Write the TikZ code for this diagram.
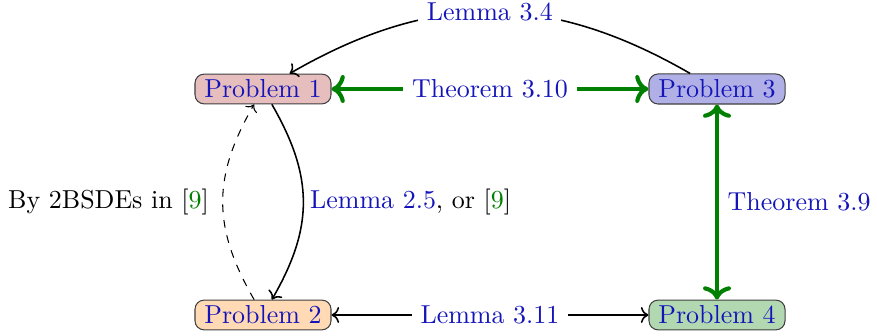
\documentclass[tikz,border=0pt]{standalone}
\usetikzlibrary{arrows.meta}
\definecolor{lnk}{RGB}{20,20,185}
\definecolor{cit}{RGB}{0,128,0}
\definecolor{pone}{RGB}{230,190,190}
\definecolor{ptwo}{RGB}{255,218,180}
\definecolor{pthree}{RGB}{176,176,230}
\definecolor{pfour}{RGB}{178,216,178}
\begin{document}
\begin{tikzpicture}[x=0.385pt,y=-0.385pt,
  prob/.style={draw=black!75,rounded corners=3.5pt,text=lnk,inner xsep=3.6pt,inner ysep=2.2pt,thin},
  garrow/.style={<->,draw=cit,line width=1.6pt},
  blab/.style={text=lnk,fill=white},
  carrow/.style={->,semithick}]
\useasboundingbox (0,0) rectangle (877,336);
\node[prob,fill=pone] (p1) at (263,89) {Problem 1};
\node[prob,fill=pthree] (p3) at (717,89) {Problem 3};
\node[prob,fill=ptwo] (p2) at (263,315) {Problem 2};
\node[prob,fill=pfour] (p4) at (717,315) {Problem 4};
\draw[carrow] (p3) to[bend right=30,looseness=1.05] node[blab] {Lemma 3.4} (p1);
\draw[garrow] (p1) -- node[blab] {Theorem 3.10} (p3);
\draw[garrow] (p3) -- node[right,text=lnk] {Theorem 3.9} (p4);
\draw[semithick,<->] (p2) -- node[blab] {Lemma 3.11} (p4);
\draw[carrow] (p1) to[bend left=30,looseness=1.1] node[right,xshift=-1pt] {\textcolor{lnk}{Lemma 2.5}, or [\textcolor{cit}{9}]} (p2);
\draw[->,thin,dashed] (p2) to[bend left=30,looseness=1.1] node[left,xshift=-1.8pt] {By 2BSDEs in [\textcolor{cit}{9}]} (p1);
\end{tikzpicture}
\end{document}
